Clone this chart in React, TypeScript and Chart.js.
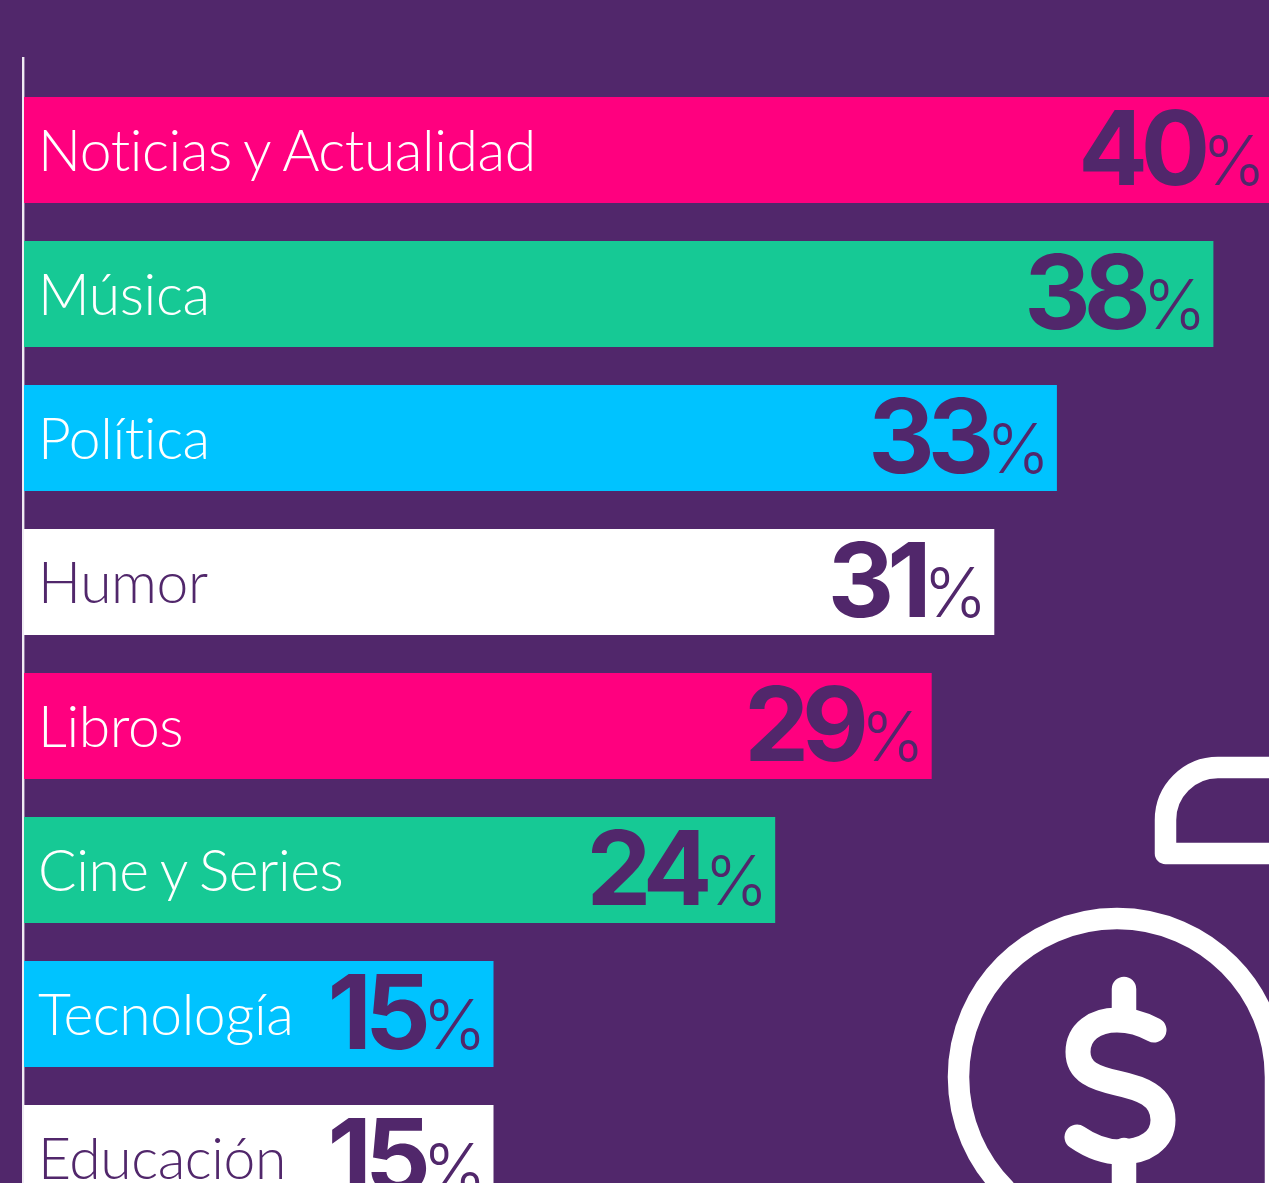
import React, { useEffect, useRef } from "react";
import { Chart, registerables } from "chart.js";

Chart.register(...registerables);

const categories = ["Noticias y Actualidad", "Música", "Política", "Humor", "Libros", "Cine y Series", "Tecnología", "Educación"];
const values = [40, 38, 33, 31, 29, 24, 15, 15];
const PURPLE = "#51276b";
const PINK = "#ff007f";
const GREEN = "#16c995";
const BLUE = "#00c3ff";
const WHITE = "#ffffff";
const barColors = [PINK, GREEN, BLUE, WHITE, PINK, GREEN, BLUE, WHITE];
const labelColors = [WHITE, WHITE, WHITE, PURPLE, WHITE, WHITE, WHITE, PURPLE];

const overlay = {
  id: "overlay",
  beforeDatasetsDraw(chart: any) {
    const { ctx } = chart;
    const x0 = chart.scales.x.getPixelForValue(0);
    ctx.save();
    ctx.strokeStyle = "#f0ecf3";
    ctx.lineWidth = 2.4;
    ctx.beginPath();
    ctx.moveTo(x0 - 0.8, 57);
    ctx.lineTo(x0 - 0.8, 1183);
    ctx.stroke();
    ctx.restore();
  },
  afterDraw(chart: any) {
    const { ctx } = chart;
    ctx.save();
    // icon
    ctx.strokeStyle = WHITE;
    ctx.lineCap = "round";
    ctx.lineJoin = "round";
    ctx.lineWidth = 21.5;
    ctx.beginPath();
    ctx.moveTo(1300, 853.5);
    ctx.lineTo(1165.5, 853.5);
    ctx.lineTo(1165.5, 820);
    ctx.arc(1218, 820, 52.5, Math.PI, Math.PI * 1.5);
    ctx.lineTo(1300, 767.5);
    ctx.stroke();
    ctx.beginPath();
    ctx.arc(1117, 1077, 158.5, Math.PI * 0.75, Math.PI * 2);
    ctx.lineTo(1275.5, 1300);
    ctx.stroke();
    ctx.lineWidth = 24.5;
    ctx.beginPath();
    ctx.moveTo(1124, 989);
    ctx.lineTo(1124, 1012);
    ctx.moveTo(1124, 1150);
    ctx.lineTo(1124, 1220);
    ctx.stroke();
    ctx.lineWidth = 25;
    ctx.beginPath();
    ctx.moveTo(1154, 1030);
    ctx.bezierCurveTo(1143, 1024, 1130, 1020, 1117, 1020);
    ctx.bezierCurveTo(1095, 1020, 1078, 1032, 1078, 1052);
    ctx.bezierCurveTo(1078, 1072, 1095, 1078, 1117, 1083);
    ctx.bezierCurveTo(1140, 1088, 1163, 1095, 1163, 1120);
    ctx.bezierCurveTo(1163, 1140, 1145, 1152, 1120, 1152);
    ctx.bezierCurveTo(1103, 1152, 1090, 1146, 1077, 1137);
    ctx.stroke();

    // texts
    const meta = chart.getDatasetMeta(0);
    ctx.textBaseline = "alphabetic";
    meta.data.forEach((bar: any, i: number) => {
      ctx.fillStyle = labelColors[i];
      ctx.textAlign = "left";
      ctx.font = "300 57px Lato";
      (ctx as any).letterSpacing = "-0.4px";
      (ctx as any).wordSpacing = "-4px";
      ctx.fillText(categories[i], 38, bar.y + 20.5);
      (ctx as any).wordSpacing = "0px";

      const end = Math.min(bar.x - 7, chart.chartArea.right - 3);
      ctx.fillStyle = PURPLE;
      ctx.textAlign = "right";
      ctx.font = "300 68px Inter";
      (ctx as any).letterSpacing = "0px";
      ctx.fillText("%", end, bar.y + 35);
      const w = ctx.measureText("%").width;
      ctx.font = "700 103px Inter";
      (ctx as any).letterSpacing = "-7px";
      ctx.fillText(String(values[i]), end - w + 1, bar.y + 35);
    });
    ctx.restore();
  },
};

export default function App() {
  const ref = useRef<HTMLCanvasElement>(null);
  useEffect(() => {
    const chart = new Chart(ref.current!, {
      type: "bar",
      data: {
        labels: categories,
        datasets: [
          {
            data: values,
            backgroundColor: barColors,
            categoryPercentage: 1,
            barPercentage: 106 / 144,
            borderWidth: 0,
          },
        ],
      },
      options: {
        indexAxis: "y",
        responsive: false,
        animation: false,
        layout: { padding: { top: 78, left: 24, right: 0, bottom: 0 } },
        plugins: { legend: { display: false }, tooltip: { enabled: false }, title: { display: false } },
        scales: {
          x: { display: false, min: 0, max: 1245 / 31.3 },
          y: { display: false },
        },
      },
      plugins: [overlay],
    } as any);
    return () => chart.destroy();
  }, []);
  return (
    <div style={{ position: "absolute", left: 0, top: 0, width: 1269, height: 1183, overflow: "hidden", background: PURPLE }}>
      <canvas ref={ref} width={1269} height={1230} style={{ display: "block" }} />
    </div>
  );
}
